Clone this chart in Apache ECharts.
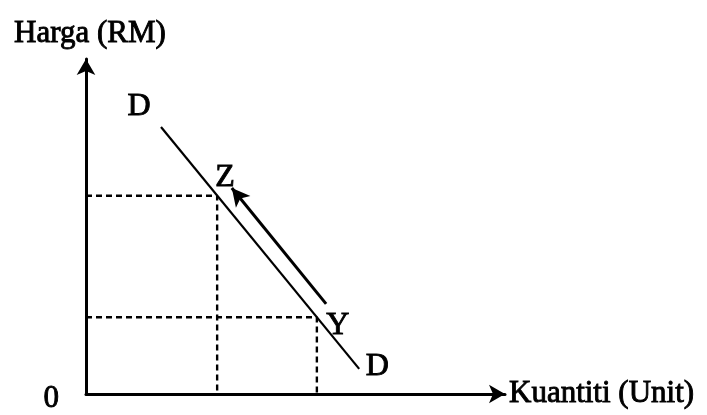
<!DOCTYPE html>
<html>
<head>
<meta charset="utf-8">
<script src="https://cdn.jsdelivr.net/npm/echarts@6/dist/echarts.min.js"></script>
<style>
  html, body { margin: 0; padding: 0; background: #fff; }
  #chart { width: 707px; height: 415px; }
</style>
</head>
<body>
<div id="chart"></div>
<script>
  // lengkung permintaan DD (unit skala 0-100)
  var demandCurve = [[17.9, 79.7], [65.2, 7.5]];
  var demandLabels = ["D", "D"];
  // titik Z dan Y pada lengkung
  var pointNames = ["Z", "Y"];
  var pointQty = [31.3, 55.1];
  var pointPrice = [59.2, 22.9];
  // anak panah pergerakan dari Y ke Z
  var moveFrom = [57.3, 26.9];
  var moveTo = [34.8, 61.5];
  var xName = "Kuantiti (Unit)";
  var yName = "Harga (RM)";

  var FONT = "Liberation Serif";
  // teks imbasan kelihatan tebal sedikit
  var INK = { color: "#000", fontFamily: FONT, textBorderColor: "#000", textBorderWidth: 0.9 };
  var chart = echarts.init(document.getElementById("chart"), null, { renderer: "canvas" });

  var labelOffsets = { D0: [-22, -20], D1: [18, -2], Z: [8, -18], Y: [21, 8] };

  function ink(extra) {
    return Object.assign({}, INK, extra);
  }

  function dashedGuide(i) {
    return {
      type: "line",
      silent: true,
      symbol: "none",
      lineStyle: { color: "#000", width: 2.4, type: [6, 4] },
      data: [[0, pointPrice[i]], [pointQty[i], pointPrice[i]], [pointQty[i], 0]],
      z: 1
    };
  }

  var option = {
    animation: false,
    backgroundColor: "#fff",
    grid: { left: 86, top: 59, right: 202, bottom: 21, containLabel: false },
    xAxis: {
      type: "value",
      min: 0,
      max: 100,
      name: xName,
      nameLocation: "end",
      nameGap: 4,
      nameTextStyle: ink({ fontSize: 31 }),
      axisLine: {
        show: true,
        symbol: ["none", "arrow"],
        symbolSize: [14, 16],
        lineStyle: { color: "#000", width: 3 }
      },
      axisTick: { show: false },
      axisLabel: { show: false },
      splitLine: { show: false }
    },
    yAxis: {
      type: "value",
      min: 0,
      max: 100,
      interval: 100,
      name: yName,
      nameLocation: "end",
      nameGap: 10,
      nameTextStyle: ink({ fontSize: 31, padding: [0, 0, 0, 8] }),
      axisLine: {
        show: true,
        symbol: ["none", "arrow"],
        symbolSize: [14, 16],
        lineStyle: { color: "#000", width: 3 }
      },
      axisTick: { show: false },
      axisLabel: ink({
        show: true,
        margin: 27,
        fontSize: 31,
        verticalAlign: "top",
        lineHeight: 10,
        formatter: function (v) { return v === 0 ? "0" : ""; }
      }),
      splitLine: { show: false }
    },
    series: [
      dashedGuide(0),
      dashedGuide(1),
      {
        type: "line",
        silent: true,
        symbol: "circle",
        symbolSize: 1,
        itemStyle: { color: "rgba(0,0,0,0)", opacity: 1 },
        lineStyle: { color: "#000", width: 2.2 },
        data: demandCurve.map(function (p, i) {
          return { value: p, label: { offset: labelOffsets["D" + i] } };
        }),
        label: ink({
          show: true,
          position: "inside",
          fontSize: 32,
          formatter: function (p) { return demandLabels[p.dataIndex]; }
        }),
        markLine: {
          silent: true,
          symbol: ["none", "arrow"],
          symbolSize: [14, 18],
          label: { show: false },
          lineStyle: { color: "#000", width: 3, type: "solid" },
          data: [[{ coord: moveFrom }, { coord: moveTo }]]
        },
        z: 2
      },
      {
        type: "scatter",
        silent: true,
        symbolSize: 1,
        itemStyle: { color: "rgba(0,0,0,0)", opacity: 1 },
        data: pointNames.map(function (n, i) {
          return { name: n, value: [pointQty[i], pointPrice[i]], label: { offset: labelOffsets[n] } };
        }),
        label: ink({
          show: true,
          position: "inside",
          fontSize: 32,
          formatter: "{b}"
        }),
        z: 3
      }
    ]
  };

  chart.setOption(option);
</script>
</body>
</html>
